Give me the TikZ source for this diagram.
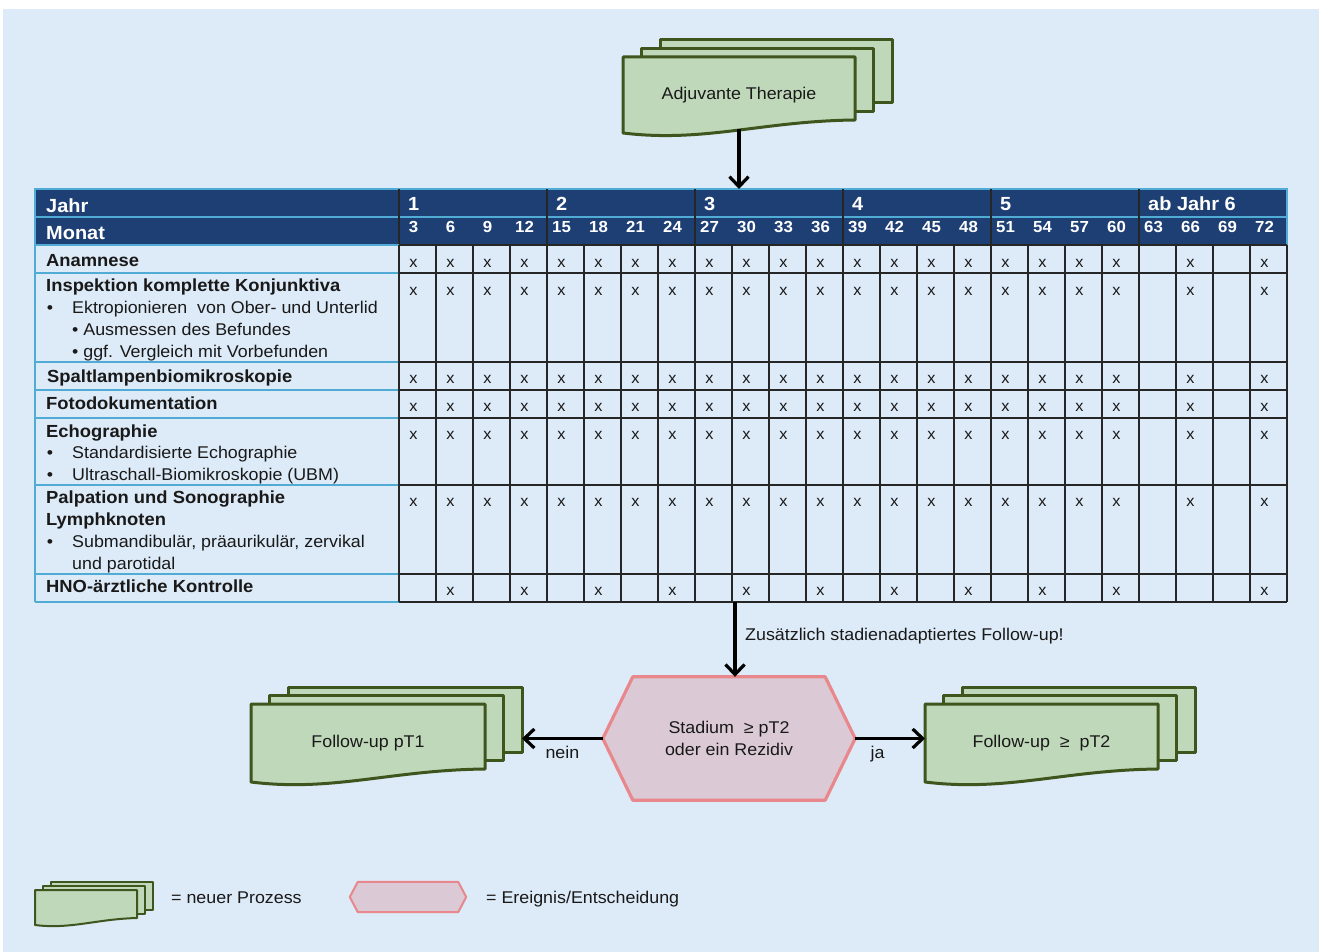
\documentclass[tikz,border=0pt]{standalone}
\usepackage{fontspec}
\setmainfont{Liberation Sans}[FakeStretch=1.05]
\usetikzlibrary{arrows.meta,calc}

\definecolor{bgblue}{RGB}{221,234,247}
\definecolor{navy}{RGB}{30,63,115}
\definecolor{cyanline}{RGB}{80,172,212}
\definecolor{gridc}{RGB}{38,38,38}
\definecolor{docfill}{RGB}{192,216,186}
\definecolor{docline}{RGB}{62,86,30}
\definecolor{hexfill}{RGB}{219,202,213}
\definecolor{hexline}{RGB}{232,136,140}
\definecolor{ink}{RGB}{25,25,25}

% stack of three documents: name, x0, y0, width, left height, right height, dx, dy, text
\newcommand{\docstack}[9]{%
  \filldraw[docshape] ({#2+2*#7},{#3-2*#8}) rectangle ({#2+#4+2*#7},{#3+#6-2*#8});
  \filldraw[docshape] ({#2+#7},{#3-#8}) rectangle ({#2+#4+#7},{#3+#6-#8});
  \filldraw[docshape] (#2,#3) -- ({#2+#4},#3) -- ({#2+#4},{#3+#6})
     .. controls ({#2+0.6*#4},{#3+#6+1}) and ({#2+0.35*#4},{#3+1.13*#5}) .. (#2,{#3+#5}) -- cycle;
  \node[doctext] (#1) at ({#2+#4/2},{#3+#5/2}) {#9};
  \coordinate (#1-r) at ({#2+#4+2*#7},{#3+#5/2});
  \coordinate (#1-l) at (#2,{#3+#5/2});
  \coordinate (#1-s) at ({#2+#4/2},{#3+#5-4});
}

\begin{document}
\begin{tikzpicture}[x=1pt,y=-1pt,
  docshape/.style={fill=docfill,draw=docline,line width=3pt,line join=round},
  doctext/.style={inner sep=0,text=ink,font=\fontsize{17}{20}\selectfont},
  plain/.style={inner sep=0,text=ink,font=\fontsize{17}{20}\selectfont},
  rowlbl/.style={anchor=base west,inner sep=0,text=ink,font=\fontsize{17.5}{20}\selectfont\bfseries},
  rowsub/.style={anchor=base west,inner sep=0,text=ink,font=\fontsize{17}{20}\selectfont},
  bul/.style={anchor=base,inner sep=0,text=ink,font=\fontsize{17}{20}\selectfont},
  xmark/.style={anchor=base,inner sep=0,text=ink,font=\fontsize{15.5}{18}\selectfont},
  hdrtxt/.style={anchor=base west,inner sep=0,text=white,font=\fontsize{19}{22}\selectfont\bfseries},
  montxt/.style={anchor=base,inner sep=0,text=white,font=\fontsize{16}{18}\selectfont\bfseries},
  gridl/.style={draw=gridc,line width=1.8pt},
  cyanl/.style={draw=cyanline,line width=1.8pt},
  hdrsep/.style={draw=gridc,line width=1.3pt},
  arr/.style={draw=black,line width=3.2pt,-{Straight Barb[length=10pt,width=19pt]}},
  hexshape/.style={fill=hexfill,draw=hexline,line width=3.2pt,line join=round},
  box/.style={draw=none,inner sep=0}]

\useasboundingbox (0,0) rectangle (1319,952);
\fill[bgblue] (3,9) rectangle (1319,952);

% ---------- header ----------
\fill[navy] (35,189) rectangle (1287,245);
\draw[cyanl] (35,189) rectangle (1287,245);
\draw[cyanl] (35,217) -- (1287,217);
\foreach \k in {0,...,5} \draw[hdrsep] ({399+148*\k},189) -- ({399+148*\k},245);

\node[hdrtxt] (jahr) at (46,212) {Jahr};
\node[hdrtxt] (monat) at (46,239) {Monat};
\foreach \k/\t in {0/1,1/2,2/3,3/4,4/5,5/ab Jahr 6}
  \node[hdrtxt] (y\k) at ({408+148*\k},211) {\t};
\foreach \c in {0,...,23}
  \node[montxt] (mo\c) at ({413.5+37*\c},233) {\pgfmathparse{int(3*(\c+1))}\pgfmathresult};

% ---------- table grid ----------
\foreach \y in {245,273,362,390,418,485,574,602} {
  \draw[cyanl] (35,\y) -- (399,\y);
}
\draw[cyanl] (35,189) -- (35,602);
\foreach \k in {0,...,24} \draw[gridl] ({399+37*\k},245) -- ({399+37*\k},602);
\foreach \y in {245,273,362,390,418,485,574,602} \draw[gridl] (399,\y) -- (1287,\y);

% ---------- row labels ----------
\node[rowlbl] (r1) at (46,266) {Anamnese};
\node[rowlbl] (r2) at (46,291) {Inspektion komplette Konjunktiva};
\node[bul] (b21) at (50,313) {•};
\node[rowsub] (s21) at (72,313) {Ektropionieren\ \ von Ober- und Unterlid};
\node[rowsub] (s22) at (72,335) {• Ausmessen des Befundes};
\node[rowsub] (s23) at (72,357) {• ggf. Vergleich mit Vorbefunden};
\node[rowlbl] (r3) at (47,382) {Spaltlampenbiomikroskopie};
\node[rowlbl] (r4) at (46,409) {Fotodokumentation};
\node[rowlbl] (r5) at (46,437) {Echographie};
\node[bul] (b51) at (50,458) {•};
\node[rowsub] (s51) at (72,458) {Standardisierte Echographie};
\node[bul] (b52) at (50,480) {•};
\node[rowsub] (s52) at (72,480) {Ultraschall-Biomikroskopie (UBM)};
\node[rowlbl] (r6) at (46,503) {Palpation und Sonographie};
\node[rowlbl] (r6b) at (46,525) {Lymphknoten};
\node[bul] (b61) at (50,547) {•};
\node[rowsub] (s61) at (72,547) {Submandibulär, präaurikulär, zervikal};
\node[rowsub] (s62) at (72,569) {und parotidal};
\node[rowlbl] (r7) at (46,592) {HNO-ärztliche Kontrolle};

% ---------- examination marks ----------
\foreach \r/\yb in {1/267,2/295,3/383,4/411,5/439,6/506}
  \foreach \c in {0,1,2,3,4,5,6,7,8,9,10,11,12,13,14,15,16,17,18,19,21,23}
    \node[xmark] (m\r-\c) at ({413.5+37*\c},\yb) {x};
\foreach \c in {1,3,5,7,9,11,13,15,17,19,23}
  \node[xmark] (m7-\c) at ({413.5+37*\c},595) {x};

% ---------- process flow ----------
\docstack{adj}{623}{57}{232}{76}{63}{18.5}{8.5}{Adjuvante Therapie}
\coordinate (tabtop) at (739,189);
\draw[arr] (adj-s) -- (tabtop);

\node[box,minimum width=252pt,minimum height=123pt] (hex) at (729,738.5) {};
\filldraw[hexshape] (hex.west) -- ([xshift=30pt]hex.north west) -- ([xshift=-30pt]hex.north east)
  -- (hex.east) -- ([xshift=-30pt]hex.south east) -- ([xshift=30pt]hex.south west) -- cycle;
\node[plain,align=center,font=\fontsize{17}{22}\selectfont] (hextxt) at (729,738) {Stadium \ ≥ pT2\\oder ein Rezidiv};

\coordinate (tabbot) at (735,602);
\draw[arr] (tabbot) -- (tabbot |- hex.north);
\node[plain,anchor=base west] (note) at (745,640) {Zusätzlich stadienadaptiertes Follow-up!};

\docstack{pta}{251}{704}{234}{78}{65}{18.5}{8.5}{Follow-up pT1}
\docstack{ptb}{925}{704}{233}{78}{65}{18.5}{8.5}{Follow-up \ ≥ \ pT2}

\draw[arr] (hex.west) -- node[plain,below=6pt,pos=0.5] (nein) {nein} (hex.west -| pta-r);
\draw[arr] (hex.east) -- node[plain,below=6pt,pos=0.32] (ja) {ja} (hex.east -| ptb-l);

% ---------- legend ----------
\begin{scope}[docshape/.append style={line width=2pt}]
\docstack{lgd}{35}{890}{102}{35}{28}{8}{4}{}
\end{scope}
\node[plain,anchor=base west] (lgdtxt) at (171,903) {= neuer Prozess};

\node[box,minimum width=116pt,minimum height=30pt] (lhex) at (408,897) {};
\filldraw[hexshape,line width=2pt] (lhex.west) -- ([xshift=8pt]lhex.north west) -- ([xshift=-8pt]lhex.north east)
  -- (lhex.east) -- ([xshift=-8pt]lhex.south east) -- ([xshift=8pt]lhex.south west) -- cycle;
\node[plain,anchor=base west] (lhextxt) at (486,903) {= Ereignis/Entscheidung};

\end{tikzpicture}
\end{document}
